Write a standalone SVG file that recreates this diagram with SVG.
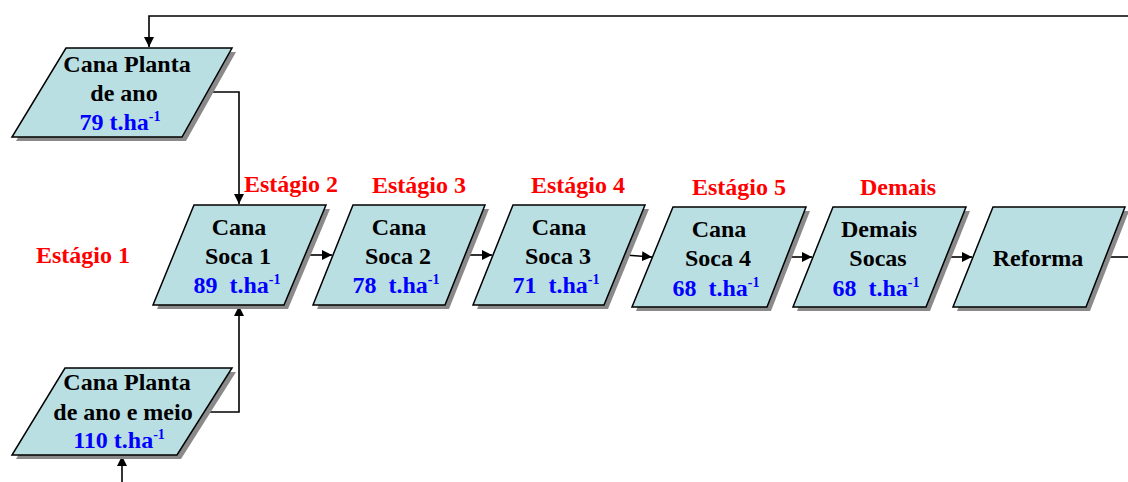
<svg xmlns="http://www.w3.org/2000/svg" width="1128" height="482" viewBox="0 0 1128 482">
<style>
.box{fill:#BADFE3;stroke:#000;stroke-width:1.5}
.sh{fill:#8a8a8a}
text{font-family:"Liberation Serif","Times New Roman",serif;font-weight:bold;font-size:24px;text-anchor:middle;white-space:pre}
.k{fill:#000}
.b{fill:#0000FF}
.r{fill:#FF0000}
.sup{font-size:14px}
.c{fill:none;stroke:#000;stroke-width:1.6}
</style>
<defs>
<marker id="ah" viewBox="0 0 10 10" refX="10" refY="5" markerWidth="10" markerHeight="10" markerUnits="userSpaceOnUse" orient="auto">
<path d="M0,0 L10,5 L0,10 z" fill="#000"/>
</marker>
</defs>
<rect width="1128" height="482" fill="#fff"/>
<g id="connectors">
<path class="c" d="M1128,16 H149 V47" marker-end="url(#ah)"/>
<path class="c" d="M207,92 H239 V204" marker-end="url(#ah)"/>
<path class="c" d="M204,412 H239 V306" marker-end="url(#ah)"/>
<path class="c" d="M122,482 V456" marker-end="url(#ah)"/>
<path class="c" d="M305,255 H332" marker-end="url(#ah)"/>
<path class="c" d="M465,255 H492" marker-end="url(#ah)"/>
<path class="c" d="M625,255 L652,257" marker-end="url(#ah)"/>
<path class="c" d="M786,257 H812" marker-end="url(#ah)"/>
<path class="c" d="M946,257 H972" marker-end="url(#ah)"/>
<path class="c" d="M1105,257 H1128"/>
</g>
<g id="labels">
<text class="r" x="83" y="263">Estágio 1</text>
<text class="r" x="291" y="192">Estágio 2</text>
<text class="r" x="419" y="193">Estágio 3</text>
<text class="r" x="578" y="193">Estágio 4</text>
<text class="r" x="739" y="195">Estágio 5</text>
<text class="r" x="898" y="195">Demais</text>
</g>
<g id="n-planta-ano">
<polygon class="sh" points="70,52 236,52 186,141 16,141"/>
<polygon class="box" points="66,48 232,48 182,137 12,137"/>
<text class="k" x="127" y="72">Cana Planta</text>
<text class="k" x="124" y="101">de ano</text>
<text class="b" x="120" y="130">79 t.ha<tspan class="sup" dy="-9">-1</tspan></text>
</g>
<g id="n-soca1">
<polygon class="sh" points="198,209 330,209 288,309 157,309"/>
<polygon class="box" points="194,205 326,205 284,305 153,305"/>
<text class="k" x="239" y="235">Cana</text>
<text class="k" x="238" y="264">Soca 1</text>
<text class="b" x="237" y="293" xml:space="preserve">89  t.ha<tspan class="sup" dy="-9">-1</tspan></text>
</g>
<g id="n-soca2">
<polygon class="sh" points="357,209 489,209 449,309 317,309"/>
<polygon class="box" points="353,205 485,205 445,305 313,305"/>
<text class="k" x="399" y="235">Cana</text>
<text class="k" x="398" y="264">Soca 2</text>
<text class="b" x="396" y="293" xml:space="preserve">78  t.ha<tspan class="sup" dy="-9">-1</tspan></text>
</g>
<g id="n-soca3">
<polygon class="sh" points="517,209 649,209 608,309 477,309"/>
<polygon class="box" points="513,205 645,205 604,305 473,305"/>
<text class="k" x="559" y="235">Cana</text>
<text class="k" x="558" y="264">Soca 3</text>
<text class="b" x="556" y="293" xml:space="preserve">71  t.ha<tspan class="sup" dy="-9">-1</tspan></text>
</g>
<g id="n-soca4">
<polygon class="sh" points="677,211 810,211 771,311 636,311"/>
<polygon class="box" points="673,207 806,207 767,307 632,307"/>
<text class="k" x="719" y="237">Cana</text>
<text class="k" x="718" y="266">Soca 4</text>
<text class="b" x="716" y="296" xml:space="preserve">68  t.ha<tspan class="sup" dy="-9">-1</tspan></text>
</g>
<g id="n-demais">
<polygon class="sh" points="837,211 970,211 930,311 797,311"/>
<polygon class="box" points="833,207 966,207 926,307 793,307"/>
<text class="k" x="879" y="237">Demais</text>
<text class="k" x="878" y="266">Socas</text>
<text class="b" x="876" y="296" xml:space="preserve">68  t.ha<tspan class="sup" dy="-9">-1</tspan></text>
</g>
<g id="n-reforma">
<polygon class="sh" points="997,211 1129,211 1090,311 957,311"/>
<polygon class="box" points="993,207 1125,207 1086,307 953,307"/>
<text class="k" x="1038" y="266">Reforma</text>
</g>
<g id="n-planta-ano-meio">
<polygon class="sh" points="69,372 236,372 181,459 16,459"/>
<polygon class="box" points="65,368 232,368 177,455 12,455"/>
<text class="k" x="127" y="390">Cana Planta</text>
<text class="k" x="123" y="420">de ano e meio</text>
<text class="b" x="119" y="448">110 t.ha<tspan class="sup" dy="-9">-1</tspan></text>
</g>
</svg>
